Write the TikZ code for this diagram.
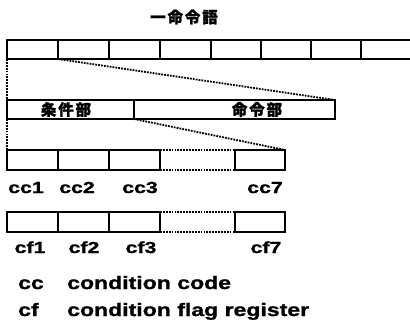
\documentclass[tikz,border=0pt]{standalone}
\usepackage{fontspec}
\newfontfamily\labfont[FakeStretch=1.33,FakeBold=1.2]{Liberation Sans Bold}
\newfontfamily\legfont[FakeStretch=1.28,FakeBold=1.2]{Liberation Sans Bold}
\newfontfamily\cjk[LetterSpace=12,FakeBold=1.5]{Noto Sans CJK JP}
\begin{document}
\begin{tikzpicture}[x=1pt,y=-1pt,
  cell/.style={draw, line width=2pt, inner sep=0pt, outer sep=0pt, minimum height=19pt},
  dotline/.style={line width=1.8pt, dash pattern=on 1.8pt off 1.1pt},
  lab/.style={font=\labfont\fontsize{16pt}{16pt}\selectfont, anchor=base, inner sep=0pt},
  leg/.style={font=\legfont\fontsize{18pt}{18pt}\selectfont, anchor=base west, inner sep=0pt},
  jp/.style={font=\cjk\bfseries\fontsize{15.5pt}{15.5pt}\selectfont, inner sep=0pt}]
\useasboundingbox (0,0) rectangle (410,330);
% title
\node[jp] (title) at (184,17) {一命令語};
% top row
\node[cell, minimum width=51pt] (t1) at (32.5,49.5) {};
\node[cell, minimum width=51pt] (t2) at (83.5,49.5) {};
\node[cell, minimum width=51pt] (t3) at (134.5,49.5) {};
\node[cell, minimum width=51pt] (t4) at (185.5,49.5) {};
\node[cell, minimum width=50pt] (t5) at (236,49.5) {};
\node[cell, minimum width=50pt] (t6) at (286,49.5) {};
\node[cell, minimum width=50pt] (t7) at (336,49.5) {};
\coordinate (tend1) at (411,40);
\coordinate (tend2) at (411,59);
\draw[line width=2pt] (t7.north east) -- (tend1) (t7.south east) -- (tend2);
% middle row
\node[cell, minimum width=127pt] (A) at (70.5,109.5) {};
\node[cell, minimum width=201pt] (B) at (234.5,109.5) {};
\node[jp] (Atext) at (66,109.5) {条件部};
\node[jp] (Btext) at (257,109.5) {命令部};
% zoom lines
\draw[dotline] (t1.south west) -- (A.north west);
\draw[dotline] (t1.south east) -- (B.north east);
% cc row
\node[cell, minimum width=51pt, minimum height=20pt] (cc1) at (32.5,160) {};
\node[cell, minimum width=51pt, minimum height=20pt] (cc2) at (83.5,160) {};
\node[cell, minimum width=51pt, minimum height=20pt] (cc3) at (134.5,160) {};
\node[cell, minimum width=50pt, minimum height=20pt] (cc7) at (260,160) {};
\draw[dotline] (cc3.north east) -- (cc7.north west);
\draw[dotline] (cc3.south east) -- (cc7.south west);
\draw[dotline] (A.south west) -- (cc1.north west);
\draw[dotline] (A.south east) -- (cc7.north east);
\node[lab] (lcc1) at (26,193) {cc1};
\node[lab] (lcc2) at (77,193) {cc2};
\node[lab] (lcc3) at (140,193) {cc3};
\node[lab] (lcc7) at (265,193) {cc7};
% cf row
\node[cell, minimum width=51pt, minimum height=20pt] (cf1) at (32.5,222) {};
\node[cell, minimum width=51pt, minimum height=20pt] (cf2) at (83.5,222) {};
\node[cell, minimum width=51pt, minimum height=20pt] (cf3) at (134.5,222) {};
\node[cell, minimum width=50pt, minimum height=20pt] (cf7) at (260,222) {};
\draw[dotline] (cf3.north east) -- (cf7.north west);
\draw[dotline] (cf3.south east) -- (cf7.south west);
\node[lab] (lcf1) at (30,253) {cf1};
\node[lab] (lcf2) at (84,253) {cf2};
\node[lab] (lcf3) at (141,253) {cf3};
\node[lab] (lcf7) at (266,253) {cf7};
% legend
\node[leg] (kcc) at (18,289) {cc};
\node[leg] (dcc) at (67,289) {condition code};
\node[leg] (kcf) at (18,316) {cf};
\node[leg] (dcf) at (67,316) {condition flag register};
\end{tikzpicture}
\end{document}
